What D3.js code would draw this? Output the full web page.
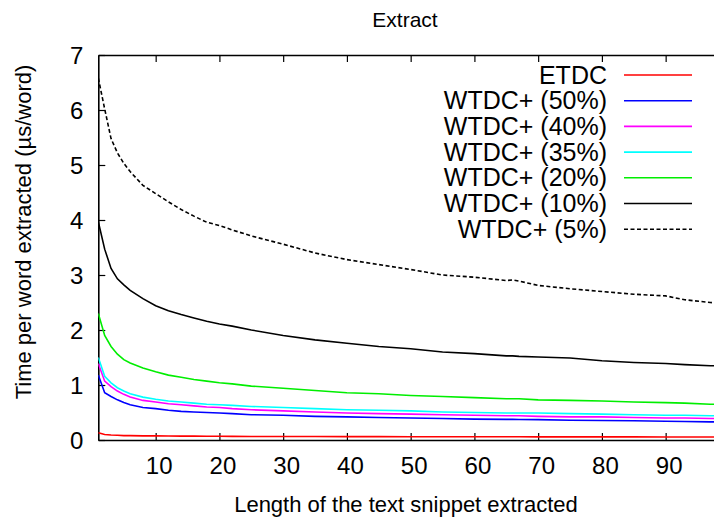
<!DOCTYPE html>
<html>
<head>
<meta charset="utf-8">
<script src="https://cdn.jsdelivr.net/npm/d3@7"></script>
<style>
  html, body { margin: 0; padding: 0; background: #fff; }
  svg { display: block; }
  text { font-family: "Liberation Sans", Arial, sans-serif; fill: #000; }
</style>
</head>
<body>
<svg id="chart" width="714" height="520"></svg>
<script>
// Snippet length (words) at which each timing was sampled
const lengths = [1, 2, 3, 4, 5, 6, 8, 10, 12, 14, 16, 18, 20, 22, 25, 30, 35, 40, 45, 50,
                 55, 60, 65, 66, 67, 70, 75, 80, 85, 90, 93, 97, 98];

// Time per word extracted (µs/word)
const etdc   = [0.13, 0.10, 0.09, 0.085, 0.08, 0.08, 0.075, 0.075, 0.072, 0.07, 0.07, 0.068, 0.067, 0.066, 0.065, 0.064, 0.063, 0.062, 0.061, 0.06,
                0.06, 0.059, 0.058, 0.058, 0.058, 0.057, 0.057, 0.056, 0.056, 0.055, 0.055, 0.055, 0.055];
const wtdc50 = [1.18, 0.86, 0.79, 0.73, 0.68, 0.64, 0.59, 0.57, 0.54, 0.52, 0.51, 0.50, 0.49, 0.48, 0.46, 0.45, 0.43, 0.42, 0.41, 0.40,
                0.39, 0.38, 0.375, 0.375, 0.374, 0.37, 0.36, 0.355, 0.35, 0.34, 0.335, 0.33, 0.33];
const wtdc40 = [1.39, 1.07, 0.97, 0.89, 0.83, 0.78, 0.72, 0.69, 0.66, 0.64, 0.62, 0.60, 0.59, 0.57, 0.55, 0.53, 0.51, 0.49, 0.48, 0.47,
                0.46, 0.45, 0.44, 0.44, 0.44, 0.43, 0.42, 0.42, 0.41, 0.40, 0.40, 0.39, 0.39];
const wtdc35 = [1.50, 1.16, 1.04, 0.95, 0.89, 0.84, 0.78, 0.74, 0.71, 0.69, 0.67, 0.65, 0.64, 0.63, 0.61, 0.59, 0.57, 0.55, 0.54, 0.53,
                0.51, 0.50, 0.49, 0.49, 0.49, 0.49, 0.48, 0.47, 0.46, 0.45, 0.45, 0.44, 0.44];
const wtdc20 = [2.30, 1.90, 1.70, 1.56, 1.46, 1.40, 1.31, 1.24, 1.18, 1.14, 1.10, 1.07, 1.04, 1.02, 0.98, 0.94, 0.90, 0.86, 0.84, 0.81,
                0.79, 0.77, 0.75, 0.75, 0.75, 0.73, 0.72, 0.71, 0.69, 0.68, 0.67, 0.65, 0.65];
const wtdc10 = [3.97, 3.47, 3.12, 2.93, 2.82, 2.72, 2.57, 2.44, 2.35, 2.28, 2.22, 2.16, 2.11, 2.07, 2.00, 1.90, 1.82, 1.76, 1.70, 1.66,
                1.60, 1.57, 1.53, 1.53, 1.52, 1.51, 1.49, 1.44, 1.41, 1.39, 1.37, 1.35, 1.35];
const wtdc5  = [6.58, 6.02, 5.48, 5.22, 5.03, 4.88, 4.63, 4.48, 4.33, 4.19, 4.07, 3.96, 3.90, 3.82, 3.71, 3.56, 3.40, 3.28, 3.19, 3.10,
                3.00, 2.96, 2.90, 2.91, 2.89, 2.81, 2.75, 2.70, 2.65, 2.62, 2.55, 2.50, 2.49];

const seriesNames  = ["ETDC", "WTDC+ (50%)", "WTDC+ (40%)", "WTDC+ (35%)", "WTDC+ (20%)", "WTDC+ (10%)", "WTDC+ (5%)"];
const seriesValues = [etdc, wtdc50, wtdc40, wtdc35, wtdc20, wtdc10, wtdc5];
const seriesColors = ["#ff0000", "#0000ff", "#ff00ff", "#00ffff", "#00ee00", "#000000", "#000000"];
const seriesDashes = [null, null, null, null, null, null, "4,2.5"];

const xTicks = [10, 20, 30, 40, 50, 60, 70, 80, 90];
const yTicks = [0, 1, 2, 3, 4, 5, 6, 7];

(function drawChart() {
  const svg = d3.select("#chart");
  const plotLeft = 98.3, plotTop = 55, plotBottom = 440, plotRight = 729.4;

  const x = d3.scaleLinear().domain([1, 100]).range([plotLeft, plotRight]);
  const y = d3.scaleLinear().domain([0, 7]).range([plotBottom, plotTop]);

  // Clip region for the curves
  svg.append("defs").append("clipPath").attr("id", "plotClip")
    .append("rect").attr("x", plotLeft).attr("y", plotTop)
    .attr("width", plotRight - plotLeft).attr("height", plotBottom - plotTop);

  // Axes with inward ticks (bottom, top mirror, left)
  const tickLen = 7;
  const xAxisB = d3.axisBottom(x).tickValues(xTicks).tickSizeInner(-tickLen).tickSizeOuter(0)
    .tickPadding(17).tickFormat(d3.format("d"));
  const xAxisT = d3.axisTop(x).tickValues(xTicks).tickSizeInner(-tickLen).tickSizeOuter(0).tickFormat("");
  const yAxisL = d3.axisLeft(y).tickValues(yTicks).tickSizeInner(-tickLen).tickSizeOuter(0)
    .tickPadding(15).tickFormat(d3.format("d"));

  function styleAxis(g) {
    g.select(".domain").attr("stroke", "#000").attr("stroke-width", 1.6);
    g.selectAll(".tick line").attr("stroke", "#000").attr("stroke-width", 1.2);
    g.selectAll(".tick text").attr("font-size", 24).attr("font-family", "Liberation Sans, Arial, sans-serif").attr("fill", "#000");
  }

  svg.append("g").attr("transform", `translate(0,${plotBottom})`).call(xAxisB).call(styleAxis)
    .selectAll(".tick text").attr("dx", 3);
  svg.append("g").attr("transform", `translate(0,${plotTop})`).call(xAxisT).call(styleAxis);
  svg.append("g").attr("transform", `translate(${plotLeft},0)`).call(yAxisL).call(styleAxis)
    .selectAll(".tick text").attr("dy", "0.36em");

  // Curves
  const line = d3.line().x((d, i) => x(lengths[i])).y(d => y(d));
  const plot = svg.append("g").attr("clip-path", "url(#plotClip)");
  seriesValues.forEach((vals, k) => {
    plot.append("path")
      .datum(vals)
      .attr("d", line)
      .attr("fill", "none")
      .attr("stroke", seriesColors[k])
      .attr("stroke-width", 1.6)
      .attr("stroke-dasharray", seriesDashes[k]);
  });

  // Legend
  const legX = 607, legLine0 = 624, legLine1 = 692, legY0 = 75, legStep = 25.7;
  seriesNames.forEach((name, k) => {
    const yy = legY0 + k * legStep;
    svg.append("text").attr("x", legX).attr("y", yy + 8.5)
      .attr("text-anchor", "end").attr("font-size", 25).text(name);
    svg.append("line").attr("x1", legLine0).attr("x2", legLine1)
      .attr("y1", yy).attr("y2", yy)
      .attr("stroke", seriesColors[k]).attr("stroke-width", 1.6)
      .attr("stroke-dasharray", seriesDashes[k]);
  });

  // Title and axis labels
  svg.append("text").attr("x", 405).attr("y", 27).attr("text-anchor", "middle")
    .attr("font-size", 21).text("Extract");
  svg.append("text").attr("x", 406).attr("y", 512).attr("text-anchor", "middle")
    .attr("font-size", 22).text("Length of the text snippet extracted");
  svg.append("text").attr("transform", "translate(31,232) rotate(-90)")
    .attr("text-anchor", "middle").attr("font-size", 22)
    .text("Time per word extracted (\u00b5s/word)");
})();
</script>
</body>
</html>
